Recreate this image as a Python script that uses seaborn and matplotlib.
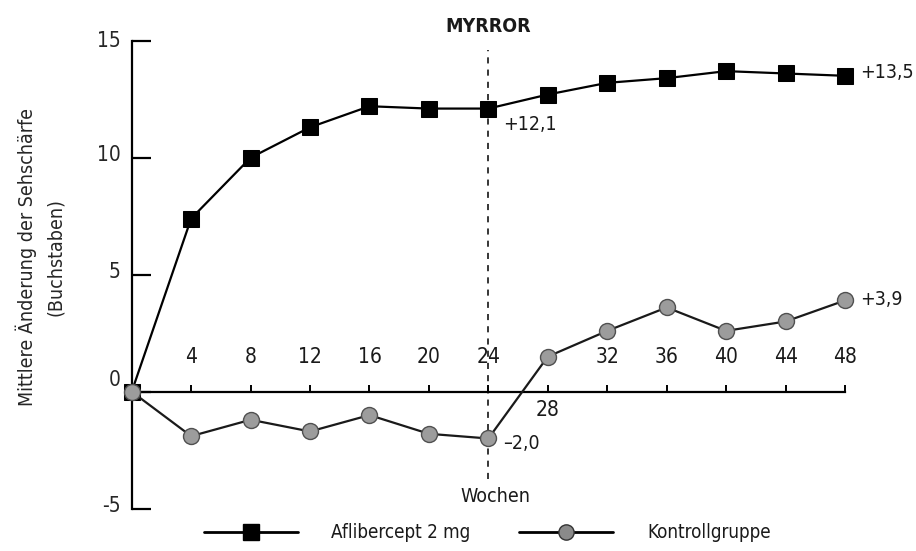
import matplotlib
matplotlib.use("Agg")
import matplotlib.pyplot as plt
import matplotlib.transforms as mtransforms
from matplotlib.lines import Line2D
import seaborn as sns

# Data
weeks = [0, 4, 8, 12, 16, 20, 24, 28, 32, 36, 40, 44, 48]
aflibercept = [0, 7.4, 10.0, 11.3, 12.2, 12.1, 12.1, 12.7, 13.2, 13.4, 13.7, 13.6, 13.5]
kontrolle = [0, -1.9, -1.2, -1.7, -1.0, -1.8, -2.0, 1.5, 2.6, 3.6, 2.6, 3.0, 3.9]
x_ticks = [4, 8, 12, 16, 20, 24, 28, 32, 36, 40, 44, 48]
y_ticks = [-5, 0, 5, 10, 15]
week_split = 24
series_names = ["Aflibercept 2 mg", "Kontrollgruppe"]


def de_num(v, sign=True):
    """German number format: +12,1 / –2,0"""
    s = f"{abs(v):.1f}".replace(".", ",")
    if not sign:
        return s
    return ("+" if v >= 0 else "–") + s


sns.set_theme(style="white")
plt.rcParams["font.family"] = ["DejaVu Sans"]
plt.rcParams["font.stretch"] = "condensed"
plt.rcParams["text.color"] = "#1a1a1a"

fig = plt.figure(figsize=(9.16, 5.51), dpi=100)
ax = fig.add_axes([0.1438, 0.0768, 0.7787, 0.8493])

# --- series ---
sns.lineplot(x=weeks, y=aflibercept, ax=ax, color="black", linewidth=1.6,
             marker="s", markersize=12, markerfacecolor="black",
             markeredgecolor="black", clip_on=False, zorder=4)
sns.lineplot(x=weeks, y=kontrolle, ax=ax, color="#1a1a1a", linewidth=1.6,
             marker="o", markersize=11.5, markerfacecolor="#9c9c9c",
             markeredgecolor="#505050", markeredgewidth=1.0,
             clip_on=False, zorder=5)

ax.set_xlim(0, 48)
ax.set_ylim(-5, 15)

# --- axes styling ---
for side in ["top", "right"]:
    ax.spines[side].set_visible(False)
ax.spines["left"].set_linewidth(1.6)
ax.spines["left"].set_color("black")
ax.spines["bottom"].set_position(("data", 0))
ax.spines["bottom"].set_linewidth(1.6)
ax.spines["bottom"].set_color("black")

ax.set_yticks(y_ticks)
ax.set_yticklabels([str(v) for v in y_ticks])
ax.tick_params(axis="y", direction="in", length=14, width=1.6, color="black",
               labelsize=15, pad=8, left=True)
# reference labels sit a little above their ticks
for lbl, v in zip(ax.get_yticklabels(), y_ticks):
    dy = 14 if v == 0 else (2 if v == 15 else 5)
    lbl.set_transform(lbl.get_transform() +
                      mtransforms.ScaledTranslation(0, dy / 100, fig.dpi_scale_trans))

ax.set_xticks(x_ticks)
ax.set_xticklabels([])
ax.tick_params(axis="x", direction="in", length=5, width=1.4, color="black",
               bottom=True)

# x tick labels above the axis (28 sits below, where the line crosses)
for wk in x_ticks:
    y_lab = -0.8 if wk == 28 else 1.5
    ax.text(wk, y_lab, str(wk), ha="center", va="center", fontsize=15)

ax.set_xlabel("")
ax.set_ylabel("Mittlere Änderung der Sehschärfe\n(Buchstaben)", fontsize=14,
              linespacing=1.6)
ax.yaxis.set_label_coords(-0.093, 0.538)

# --- MYRROR marker ---
ax.plot([week_split, week_split], [-3.75, 14.6], linestyle=(0, (4, 4)),
        color="black", linewidth=1.1, clip_on=False, zorder=3)
ax.text(week_split, 15.6, "MYRROR", ha="center", va="center",
        fontsize=14, fontweight="bold")
ax.text(week_split + 0.5, -4.5, "Wochen", ha="center", va="center", fontsize=14)

# --- value annotations ---
ax.text(week_split + 1.0, 11.4, de_num(aflibercept[6]),
        ha="left", va="center", fontsize=14)
ax.text(week_split + 1.0, -2.2, de_num(kontrolle[6]),
        ha="left", va="center", fontsize=14)
ax.text(49.0, 13.65, de_num(aflibercept[-1]),
        ha="left", va="center", fontsize=14)
ax.text(49.0, 3.95, de_num(kontrolle[-1]),
        ha="left", va="center", fontsize=14)

# --- legend ---
handles = [
    Line2D([], [], color="black", linewidth=2, marker="s", markersize=11,
           markerfacecolor="black", markeredgecolor="black"),
    Line2D([], [], color="black", linewidth=2, marker="o", markersize=11,
           markerfacecolor="#8a8a8a", markeredgecolor="#333333"),
]
fig.legend(handles, series_names, loc="center",
           bbox_to_anchor=(0.532, 0.033), ncol=2, frameon=False, fontsize=13.5,
           handlelength=5.0, handletextpad=1.8, columnspacing=2.6)

fig.savefig("out.png", dpi=100)
